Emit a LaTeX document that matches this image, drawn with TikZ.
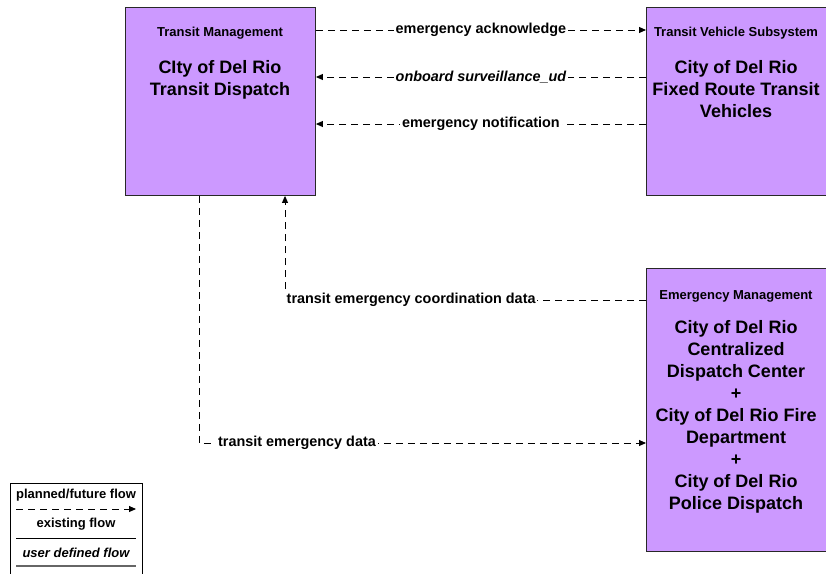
\documentclass[tikz,border=0pt]{standalone}
\usepackage{fontspec}
\setmainfont{Liberation Sans}
\usepackage{tikz}
\usetikzlibrary{arrows.meta,positioning,calc}
\definecolor{boxfill}{RGB}{204,153,255}
\definecolor{boxline}{RGB}{40,40,40}

\tikzset{
  sysbox/.style={draw=boxline,fill=boxfill,line width=.9pt,anchor=north west,inner sep=0pt},
  hdr/.style={font=\bfseries\fontsize{13}{15}\selectfont,inner sep=0pt},
  sysname/.style={font=\bfseries\fontsize{18}{22}\selectfont,align=center,inner sep=0pt},
  flow/.style={line width=.9pt,dash pattern=on 7pt off 5pt,->},
  lbl/.style={fill=white,font=\bfseries\fontsize{14.4}{16}\selectfont,inner sep=2pt},
  lgd/.style={font=\bfseries\fontsize{13}{15}\selectfont,inner sep=0pt}
}

\begin{document}
\begin{tikzpicture}[x=1pt,y=-1pt,>={Triangle[length=7pt,width=6pt]}]
\useasboundingbox (0,0) rectangle (826,573);

% systems
\node[sysbox,minimum width=190pt,minimum height=188pt] (tm) at (125,7) {};
\node[hdr] at (220,33) {Transit Management};
\node[sysname,anchor=north] at (220,60) {CIty of Del Rio\\Transit Dispatch};

\node[sysbox,minimum width=182pt,minimum height=188pt] (tvs) at (646,7) {};
\node[hdr] at (736,33) {Transit Vehicle Subsystem};
\node[sysname,anchor=north] at (736,60) {City of Del Rio\\Fixed Route Transit\\Vehicles};

\node[sysbox,minimum width=182pt,minimum height=283pt] (em) at (646,268) {};
\node[hdr] at (736,296) {Emergency Management};
\node[sysname,anchor=north] at (736,320) {City of Del Rio\\Centralized\\Dispatch Center\\+\\City of Del Rio Fire\\Department\\+\\City of Del Rio\\Police Dispatch};

% flows between the top boxes
\draw[flow] (tm.east |- 0,30) -- node[lbl]{emergency acknowledge} (tvs.west |- 0,30);
\draw[flow] (tvs.west |- 0,77) -- node[lbl]{\itshape onboard surveillance\_ud} (tm.east |- 0,77);
\draw[flow] (tvs.west |- 0,124) -- node[lbl]{emergency notification} (tm.east |- 0,124);

% flows to and from emergency management
\coordinate (c4) at (285,300);
\draw[flow] (c4 -| em.west) -- (c4) -- (c4 |- tm.south);
\node[lbl,anchor=west,inner sep=1.5pt] at (c4) {transit emergency coordination data};

\coordinate (c5) at (199,443);
\draw[flow] (c5 |- tm.south) -- (c5) -- (c5 -| em.west);
\node[lbl,anchor=west] at ([xshift=17pt]c5) {transit emergency data};

% legend
\draw[line width=.9pt] (10,580) -- (10,483) -- (142,483) -- (142,580);
\node[lgd] (lg1) at (76,495) {planned/future flow};
\draw[flow] (16,509) -- (136,509);
\node[lgd] (lg2) at (76,524) {existing flow};
\draw[line width=.9pt] (16,538) -- (136,538);
\node[lgd] (lg3) at (76,553) {\itshape user defined flow};
\draw[line width=2pt,gray!80!black] (16,566) -- (136,566);
\end{tikzpicture}
\end{document}
